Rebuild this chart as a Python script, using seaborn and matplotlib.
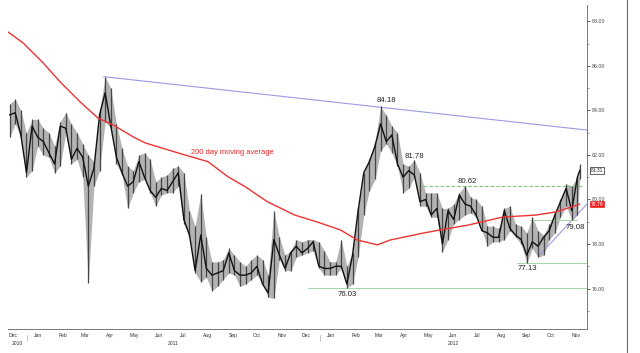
import numpy as np
import pandas as pd
import matplotlib
matplotlib.use("Agg")
import matplotlib.pyplot as plt
import matplotlib.dates as mdates
import seaborn as sns

# ---------------- data ----------------
week_start = "2010-12-10"
week_end = "2012-11-16"
last_day = "2012-11-19"

highs = [84.3, 84.5, 84.0, 83.0,
         83.6, 83.6, 83.2, 83.0, 82.4, 83.5, 83.9, 83.4, 83.0, 82.5, 82.0, 81.7,
         84.0, 85.52, 85.0, 83.4, 82.3, 81.5, 81.3, 82.0, 82.1, 81.8, 80.8, 81.0,
         81.1, 81.4, 81.5, 81.2, 79.5, 78.8, 80.25, 78.3, 77.2, 77.2, 77.3, 77.8,
         77.5, 77.2, 77.0, 77.3, 77.5, 77.3, 76.6, 79.5, 78.3, 77.5, 77.7, 78.2,
         78.1, 78.2, 78.2, 78.1,
         77.7, 77.2, 77.2, 78.2, 77.0, 77.6, 79.6, 81.2, 81.8, 82.6, 84.18, 83.8,
         83.3, 83.0, 81.6, 81.5, 81.78, 81.2, 80.3, 80.3, 80.3, 79.6, 79.6, 79.8,
         80.3, 80.62, 80.1, 80.0, 79.7, 78.8, 78.8, 78.7, 79.6, 79.7, 78.9, 78.8,
         78.5, 79.2, 78.6, 78.4, 78.9, 79.4, 80.0, 80.7, 80.6, 81.0, 81.6]
lows = [82.8, 83.4, 82.8, 81.0,
        81.3, 82.4, 82.0, 81.9, 81.2, 81.5, 83.0, 81.6, 81.8, 81.0, 76.25, 80.6,
        81.3, 83.5, 83.2, 81.6, 81.1, 79.6, 80.3, 80.8, 80.9, 80.3, 79.7, 80.2,
        80.3, 80.3, 80.6, 78.9, 78.3, 76.7, 76.3, 76.5, 75.9, 76.1, 76.4, 76.7,
        76.6, 76.1, 76.2, 76.4, 76.6, 76.2, 75.6, 75.56, 77.3, 76.8, 76.8, 77.4,
        77.5, 77.6, 77.7, 76.9,
        76.6, 76.6, 76.6, 76.9, 76.03, 76.2, 77.4, 79.3, 80.4, 80.9, 82.2, 82.5,
        82.1, 81.5, 80.3, 80.5, 81.0, 79.7, 79.7, 79.2, 79.2, 77.65, 78.2, 78.9,
        79.1, 79.3, 79.4, 79.2, 78.6, 77.9, 78.1, 78.1, 78.2, 78.6, 78.3, 78.0,
        77.13, 77.8, 77.4, 77.5, 78.2, 78.5, 79.2, 79.7, 79.08, 79.3, 80.9]
closes = [83.8, 83.9, 82.9, 81.2,
          83.3, 82.8, 82.6, 82.1, 81.6, 83.3, 83.2, 81.8, 82.3, 81.9, 80.6, 81.4,
          83.8, 84.8, 83.3, 81.9, 81.2, 80.6, 80.8, 81.7, 81.0, 80.4, 80.1, 80.5,
          80.4, 80.8, 81.2, 79.1, 78.4, 76.8, 78.4, 76.9, 76.6, 76.7, 76.8, 77.6,
          76.8, 76.6, 76.6, 76.7, 77.0, 76.2, 75.8, 78.2, 77.5, 76.9, 77.6, 77.9,
          77.6, 77.8, 78.1, 77.0,
          76.9, 76.9, 77.0, 77.0, 76.2, 77.5, 79.5, 81.2, 81.7, 82.4, 83.4, 82.6,
          82.9, 81.6, 81.0, 81.3, 81.1, 79.9, 80.0, 79.3, 79.6, 78.0, 79.5, 79.1,
          80.2, 79.8, 79.7, 79.3, 78.6, 78.5, 78.3, 78.3, 79.5, 78.7, 78.4, 78.2,
          77.5, 78.1, 77.9, 78.3, 78.6, 79.3, 79.9, 80.5, 79.5, 81.0, 81.31]

ma_dates = ["2010-12-08", "2010-12-27", "2011-01-21", "2011-02-11", "2011-03-08",
            "2011-03-30", "2011-04-18", "2011-05-13", "2011-05-28", "2011-07-08",
            "2011-08-14", "2011-09-08", "2011-09-29", "2011-10-27", "2011-11-30",
            "2011-12-28", "2012-01-26", "2012-02-16", "2012-03-12", "2012-03-28",
            "2012-05-08", "2012-05-29", "2012-07-03", "2012-08-15", "2012-09-25",
            "2012-10-20", "2012-11-05", "2012-11-19"]
ma_values = [87.53, 87.03, 86.13, 85.28, 84.38,
             83.66, 83.35, 82.81, 82.54, 82.09,
             81.70, 81.02, 80.58, 79.90, 79.30,
             78.99, 78.63, 78.18, 77.96, 78.18,
             78.49, 78.63, 78.85, 79.21, 79.30,
             79.44, 79.62, 79.79]

resist_dates = ["2011-04-06", "2012-11-28"]
resist_values = [85.52, 83.12]
support_dates = ["2012-09-29", "2012-11-28"]
support_values = [77.46, 79.80]

levels = [80.62, 76.03, 77.13, 79.08]
level_starts = ["2012-05-02", "2011-12-17", "2012-09-02", "2012-09-18"]
level_ends = ["2012-11-22", "2012-11-28", "2012-11-28", "2012-11-16"]

peak_labels = ["84.18", "81.78", "80.62", "79.08", "77.13", "76.03"]
peak_dates = ["2012-03-23", "2012-04-27", "2012-07-02", "2012-11-13", "2012-09-15", "2012-02-04"]
peak_pos = [84.47, 81.95, 80.83, 78.76, 76.92, 75.71]

last_price = "81.31"
ma_last = "79.79"
month_names = ["Dec", "Jan", "Feb", "Mar", "Apr", "May", "Jun", "Jul", "Aug", "Sep", "Oct", "Nov"]
years = ["2010", "2011", "2012"]

# ---------------- build ----------------
dates = list(pd.date_range(week_start, week_end, freq="W-FRI")) + [pd.Timestamp(last_day)]
df = pd.DataFrame({"date": dates, "high": highs, "low": lows, "close": closes})
ma = pd.DataFrame({"date": pd.to_datetime(ma_dates), "ma": ma_values})

sns.set_style("white")
plt.rcParams["font.family"] = ["Liberation Sans", "DejaVu Sans"]

W, H = 640, 353
fig = plt.figure(figsize=(W / 100, H / 100), dpi=100)
ax = fig.add_axes([8 / W, (H - 329) / H, (587 - 8) / W, (329 - 5) / H])

x0 = pd.Timestamp("2010-12-08")
x1 = pd.Timestamp("2012-11-28")
ax.set_xlim(x0, x1)
ax.set_ylim(74.18, 88.74)

# price bars: high-low band, weekly bars and close line
ax.fill_between(df["date"], df["low"], df["high"], color="#9a9a9a", lw=0, alpha=0.75, zorder=2)
ax.vlines(df["date"], df["low"], df["high"], color="#444444", lw=0.9, zorder=3)
sns.lineplot(data=df, x="date", y="close", ax=ax, color="#111111", lw=1.0, zorder=4)

# moving average
sns.lineplot(data=ma, x="date", y="ma", ax=ax, color="#ee3333", lw=1.0, zorder=5)

# trend lines
ax.plot(pd.to_datetime(resist_dates), resist_values, color="#9b9be0", lw=0.8, zorder=2)
ax.plot(pd.to_datetime(support_dates), support_values, color="#9b9be0", lw=0.8, zorder=2)

for lv, s, e in zip(levels, level_starts, level_ends):
    if lv == 80.62:
        ax.plot(pd.to_datetime([s, e]), [lv, lv], color="#77c777", lw=0.8, ls=(0, (3, 2)), zorder=2)
    else:
        ax.plot(pd.to_datetime([s, e]), [lv, lv], color="#a8d8a8", lw=0.8, zorder=2)

for t, d, v in zip(peak_labels, peak_dates, peak_pos):
    ax.text(pd.Timestamp(d), v, t, fontsize=5.6, color="#222222", ha="center", va="center", zorder=6)

ax.text(pd.Timestamp("2011-09-13"), 82.13, "200 day moving average", fontsize=5.4,
        color="#ee2222", ha="center", va="center", zorder=6)

# axes styling
for s in ["left", "top"]:
    ax.spines[s].set_visible(False)
ax.spines["right"].set_color("#777777")
ax.spines["bottom"].set_color("#777777")
ax.spines["right"].set_linewidth(0.7)
ax.spines["bottom"].set_linewidth(0.7)

ax.yaxis.tick_right()
ax.set_yticks(np.arange(76, 89, 2))
ax.set_yticklabels([f"{v:.2f}" for v in np.arange(76, 89, 2)])
ax.set_yticks(np.arange(75, 89, 2), minor=True)
ax.tick_params(axis="y", which="major", direction="out", length=2, width=0.6, pad=1.5,
               labelsize=3.8, colors="#444444")
ax.tick_params(axis="y", which="minor", direction="out", length=1.2, width=0.5, colors="#777777")

# x axis: ticks at month starts, labels mid-month
ax.xaxis.set_major_locator(mdates.MonthLocator())
ax.xaxis.set_major_formatter(matplotlib.ticker.NullFormatter())
ax.tick_params(axis="x", which="major", direction="in", length=2, width=0.5, colors="#777777")
ax.tick_params(axis="x", which="minor", length=0)
ax.set_xlabel("")
ax.set_ylabel("")

mstarts = pd.date_range("2010-12-01", "2012-11-01", freq="MS")
for m in mstarts:
    ax.text(m + pd.Timedelta(days=13), -0.013, month_names[(m.month % 12)], transform=ax.get_xaxis_transform(),
            fontsize=3.6, color="#333333", ha="center", va="top")

ycenters = [x0 + (pd.Timestamp("2011-01-01") - x0) / 2,
            pd.Timestamp("2011-07-02"),
            pd.Timestamp("2012-01-01") + (x1 - pd.Timestamp("2012-01-01")) / 2]
for yl, c in zip(years, ycenters):
    ax.text(c, -0.036, yl, transform=ax.get_xaxis_transform(), fontsize=3.6,
            color="#333333", ha="center", va="top")
for b in ["2011-01-01", "2012-01-01"]:
    ax.plot([pd.Timestamp(b)] * 2, [-0.018, -0.036], transform=ax.get_xaxis_transform(),
            color="#bbbbbb", lw=0.6, clip_on=False)

# right side price boxes
ax.text(1.006, 81.31, last_price, transform=ax.get_yaxis_transform(), fontsize=3.6,
        color="#222222", ha="left", va="center",
        bbox=dict(boxstyle="square,pad=0.15", fc="white", ec="#222222", lw=0.5))
ax.text(1.006, 79.79, ma_last, transform=ax.get_yaxis_transform(), fontsize=3.6,
        color="white", ha="left", va="center",
        bbox=dict(boxstyle="square,pad=0.15", fc="#ee2222", ec="#ee2222", lw=0.5))

# outer frame line at the right
fig.add_artist(plt.Line2D([627 / W, 627 / W], [0, 1], color="#666666", lw=0.8))

fig.savefig("out.png", dpi=100)
